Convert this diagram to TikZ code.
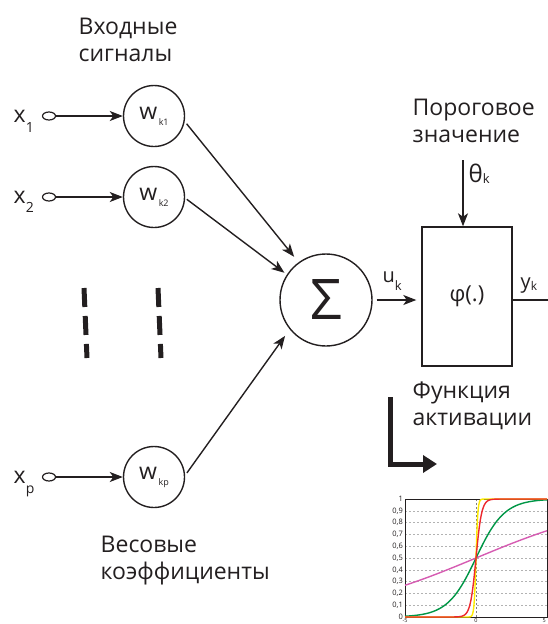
\documentclass[tikz,border=0pt]{standalone}
\usepackage{fontspec}
\setmainfont{Open Sans}
\usetikzlibrary{shapes.geometric,arrows.meta}

\definecolor{ink}{RGB}{35,31,32}
\definecolor{pinkc}{RGB}{214,92,178}
\definecolor{greenc}{RGB}{0,150,70}
\definecolor{redc}{RGB}{237,40,45}
\definecolor{yellowc}{RGB}{255,236,0}

\newcommand{\fs}[1]{\fontsize{#1}{#1}\selectfont}
\newcommand{\low}[3]{\raisebox{-#1}{\fs{#2}#3}}

\begin{document}
\begin{tikzpicture}[
  x=1pt,y=-1pt,
  color=ink,
  line width=1.4pt,
  lbl/.style={anchor=west,align=left,inner sep=0pt,font=\fontsize{23}{27}\selectfont},
  sym/.style={anchor=base west,inner sep=0pt},
  port/.style={ellipse,draw,line width=1.2pt,minimum width=13pt,minimum height=8pt,inner sep=0pt},
  wnode/.style={circle,draw,minimum size=61pt,inner sep=0pt,font=\fs{23}},
  sumnode/.style={circle,draw,minimum size=92pt,inner sep=0pt,font=\fs{56}},
  actbox/.style={draw,minimum width=90pt,minimum height=139pt,inner sep=0pt,font=\fs{22}},
  arr/.style={-{Stealth[length=13pt,width=10pt,inset=3.5pt]}},
  bars/.style={line width=5pt,dash pattern=on 19pt off 9pt},
  bigarr/.style={line width=5pt,-{Triangle[length=14pt,width=17pt]}},
  gridln/.style={gray!60,line width=0.6pt,dash pattern=on 2pt off 2pt},
  tick/.style={font=\fs{7.5},inner sep=1.5pt},
  curve/.style={line width=1.4pt}
]
  \useasboundingbox (0,0) rectangle (548,624);
  \clip (0,0) rectangle (548,624);

  \node[lbl] (intxt) at (78,40) {Входные\\сигналы};
  \node[lbl] (wtxt) at (100,561) {Весовые\\коэффициенты};
  \node[lbl] (thtxt) at (412,121) {Пороговое\\значение};
  \node[lbl] (acttxt) at (412,406) {Функция\\активации};

  \node[sym,font=\fs{23}] (x1) at (13,122) {x\low{10pt}{14}{1}};
  \node[sym,font=\fs{23}] (x2) at (13,203) {x\low{9pt}{14}{2}};
  \node[sym,font=\fs{23}] (xp) at (13,483) {x\low{10pt}{14}{p}};

  \node[port] (p1) at (49,116) {};
  \node[port] (p2) at (49,197) {};
  \node[port] (pp) at (49,477) {};
  \node[wnode] (w1) at (154,116) {w\low{6pt}{9}{\,k1}};
  \node[wnode] (w2) at (154,197) {w\low{6pt}{9}{\,k2}};
  \node[wnode] (wp) at (154,477) {w\low{6pt}{9}{\,kp}};
  \draw[arr] (p1) -- (w1);
  \draw[arr] (p2) -- (w2);
  \draw[arr] (pp) -- (wp);

  \coordinate (d1a) at (84,288);
  \coordinate (d1b) at (87,358);
  \coordinate (d2a) at (158,288);
  \coordinate (d2b) at (161,358);
  \draw[bars] (d1a) -- (d1b);
  \draw[bars] (d2a) -- (d2b);

  \node[sumnode] (sum) at (326,300) {Σ};
  \node[actbox] (act) at (467,296.5) {φ(.)};
  \draw[arr,shorten <=3pt,shorten >=7pt] (w1.-10) -- (sum.126);
  \draw[arr,shorten <=2pt,shorten >=3pt] (w2.-2) -- (sum.147);
  \draw[arr,shorten <=3pt,shorten >=8pt] (wp.3) -- (sum.-141);

  \node[sym,font=\fs{20}] (ulbl) at (382,282) {u\low{8pt}{13}{k}};
  \draw[arr,shorten <=4pt,shorten >=5pt] (sum.east) -- (act.west |- sum.east);

  \coordinate (thtop) at (463,160);
  \node[sym,font=\fs{24}] (thlbl) at (468,182) {θ\low{1pt}{13}{k}};
  \draw[arr] (thtop) -- (act.north -| thtop);

  \coordinate (yout) at (562,300);
  \node[sym,font=\fs{20}] (ylbl) at (520,288) {y\low{2pt}{12}{k}};
  \draw[arr] (act.east |- sum.east) -- (yout);

  \coordinate (lt) at (390,397);
  \coordinate (lh) at (437,464);
  \draw[bigarr] (lt) |- (lh);

  \begin{scope}[xshift=476pt,yshift=-617pt,x=14.2pt,y=118pt]
    \foreach \i in {1,...,9} {
      \draw[gridln] (-5,\i/10) -- (5,\i/10);
      \node[tick,anchor=east] (yl\i) at (-5,\i/10) {0,\i};
    }
    \node[tick,anchor=east] (yl0) at (-5,0) {0};
    \node[tick,anchor=east] (yl10) at (-5,1) {1};
    \draw[gridln,gray] (0,0) -- (0,1);
    \node[tick,anchor=north,font=\fs{5.5},inner sep=0.6pt] (xlm) at (-5,0) {-5};
    \node[tick,anchor=north,font=\fs{5.5},inner sep=0.6pt] (xl0) at (0,0) {0};
    \node[tick,anchor=north east,font=\fs{5.5},inner sep=0.6pt] (xlp) at (5,0) {5};
    \draw[line width=0.8pt] (-5,0) rectangle (5,1);
    \draw[curve,pinkc] plot[domain=-5:5,samples=30] (\x,{1/(1+exp(-0.2*\x))});
    \draw[curve,greenc] plot[domain=-5:5,samples=80] (\x,{1/(1+exp(-\x))});
    \draw[curve,yellowc] (-5,0) -- plot[domain=-0.6:0.6,samples=60] (\x,{1/(1+exp(-15*\x))}) -- (5,1);
    \draw[curve,redc] (-5,0) -- plot[domain=-1.8:1.8,samples=90] (\x,{1/(1+exp(-5*\x))}) -- (5,1);
  \end{scope}
\end{tikzpicture}
\end{document}
